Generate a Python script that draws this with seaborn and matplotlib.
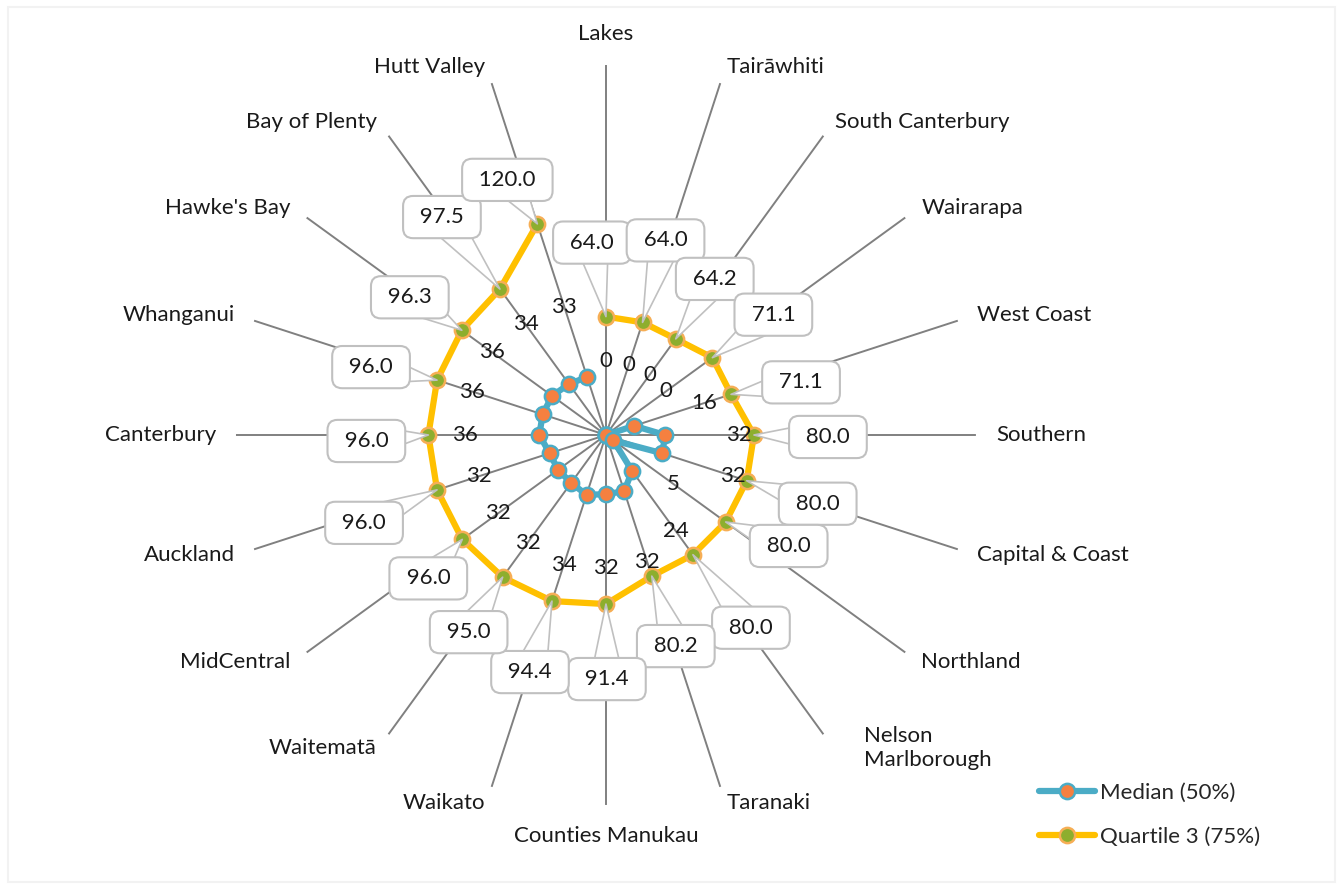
import numpy as np
import pandas as pd
import matplotlib
matplotlib.use('Agg')
import matplotlib.pyplot as plt
import seaborn as sns
from matplotlib.patches import Rectangle

regions = ['Lakes', 'Tairāwhiti', 'South Canterbury', 'Wairarapa', 'West Coast',
           'Southern', 'Capital & Coast', 'Northland', 'Nelson\nMarlborough', 'Taranaki',
           'Counties Manukau', 'Waikato', 'Waitematā', 'MidCentral', 'Auckland',
           'Canterbury', 'Whanganui', "Hawke's Bay", 'Bay of Plenty', 'Hutt Valley']
median = [0, 0, 0, 0, 16, 32, 32, 5, 24, 32, 32, 34, 32, 32, 32, 36, 36, 36, 34, 33]
q3 = [64.0, 64.0, 64.2, 71.1, 71.1, 80.0, 80.0, 80.0, 80.0, 80.2,
      91.4, 94.4, 95.0, 96.0, 96.0, 96.0, 96.0, 96.3, 97.5, 120.0]
series_names = ['Median (50%)', 'Quartile 3 (75%)']

# where the excel callouts were dragged to (pixels away from the point)
q3_label_offsets = [(-14, 74), (23, 82), (39, 60), (61, 43), (70, 12),
                    (74, -2), (71, -23), (63, -24), (58, -73), (24, -70),
                    (1, -75), (-22, -71), (-34, -55), (-34, -39), (-73, -33),
                    (-62, -6), (-66, 13), (-52, 33), (-58, 72), (-30, 44)]

sns.set_style('white')
plt.rcParams['font.family'] = ['Lato', 'DejaVu Sans']
FS = 16

n = len(regions)
theta = np.linspace(0, 2 * np.pi, n, endpoint=False)

# close the loops
df = pd.DataFrame({
    'theta': np.concatenate([theta, theta[:1], theta, theta[:1]]),
    'value': median + median[:1] + q3 + q3[:1],
    'series': [series_names[0]] * (n + 1) + [series_names[1]] * (n + 1),
})

fig = plt.figure(figsize=(13.4, 8.88), dpi=100)
ax = fig.add_axes([0.1761, 0.0935, 0.5522, 0.8333], projection='polar')
ax.set_theta_zero_location('N')
ax.set_theta_direction(-1)

sns.lineplot(data=df[df.series == series_names[0]], x='theta', y='value', sort=False,
             ax=ax, color='#4BACC6', lw=4.5, marker='o', markersize=11,
             markerfacecolor='#F58040', markeredgecolor='#4BACC6', markeredgewidth=1.8,
             label=series_names[0], zorder=4)
sns.lineplot(data=df[df.series == series_names[1]], x='theta', y='value', sort=False,
             ax=ax, color='#FFC000', lw=4.5, marker='o', markersize=11,
             markerfacecolor='#8DAE2E', markeredgecolor='#F6AE55', markeredgewidth=1.8,
             label=series_names[1], zorder=4)
if ax.get_legend():
    ax.get_legend().remove()

ax.set_ylim(0, 200)
ax.set_xticks(theta)
ax.set_xticklabels([])
ax.set_yticks([])
ax.set_xlabel('')
ax.set_ylabel('')
ax.tick_params(axis='x', length=0)
ax.grid(axis='x', color='#808080', lw=1.4)
ax.spines['polar'].set_visible(False)
ax.set_facecolor('none')

# category labels at the end of each spoke
for t, name in zip(theta, regions):
    s, c = np.sin(t), np.cos(t)
    if abs(s) < 0.1:
        ha, off = 'center', (0, 31 * c)
    else:
        ha, off = ('left' if s > 0 else 'right'), (20 * s, 17 * c)
    if '\n' in name:  # excel pushes the wrapped label further out
        off = (off[0] + 29, off[1])
    ax.annotate(name, xy=(t, 200), xytext=off, textcoords='offset pixels',
                ha=ha, va='center', fontsize=FS, color='#1a1a1a', annotation_clip=False)

# median labels
for t, v in zip(theta, median):
    ax.text(t, v + 40, f'{v}', ha='center', va='center', fontsize=FS, color='#1a1a1a', zorder=6)

# quartile 3 callouts: wedge starts under the box so it looks joined
for t, v, off in zip(theta, q3, q3_label_offsets):
    ax.annotate(f' {v:.1f} ', xy=(t, v), xytext=off, textcoords='offset pixels',
                ha='center', va='center', fontsize=FS, color='#1a1a1a', zorder=5,
                annotation_clip=False,
                bbox=dict(boxstyle='round,pad=0.5,rounding_size=0.45', fc='white',
                          ec='#c0c0c0', lw=1.5),
                arrowprops=dict(arrowstyle='wedge,tail_width=1.5,shrink_factor=0.5',
                                fc='white', ec='#c0c0c0', lw=1.2, shrinkA=0, shrinkB=0,
                                patchA=None))

handles, labels = ax.get_legend_handles_labels()
fig.legend(handles, labels, loc='center left', bbox_to_anchor=(1028 / 1340, 1 - 815 / 888),
           frameon=False, fontsize=FS, handlelength=2.5, handletextpad=0.25,
           labelspacing=1.1, borderpad=0)

fig.patches.append(Rectangle((0.006, 0.007), 0.99, 0.985, transform=fig.transFigure,
                             fill=False, ec='#f2f2f2', lw=1.5))

fig.savefig('out.png', dpi=100, facecolor='white')
